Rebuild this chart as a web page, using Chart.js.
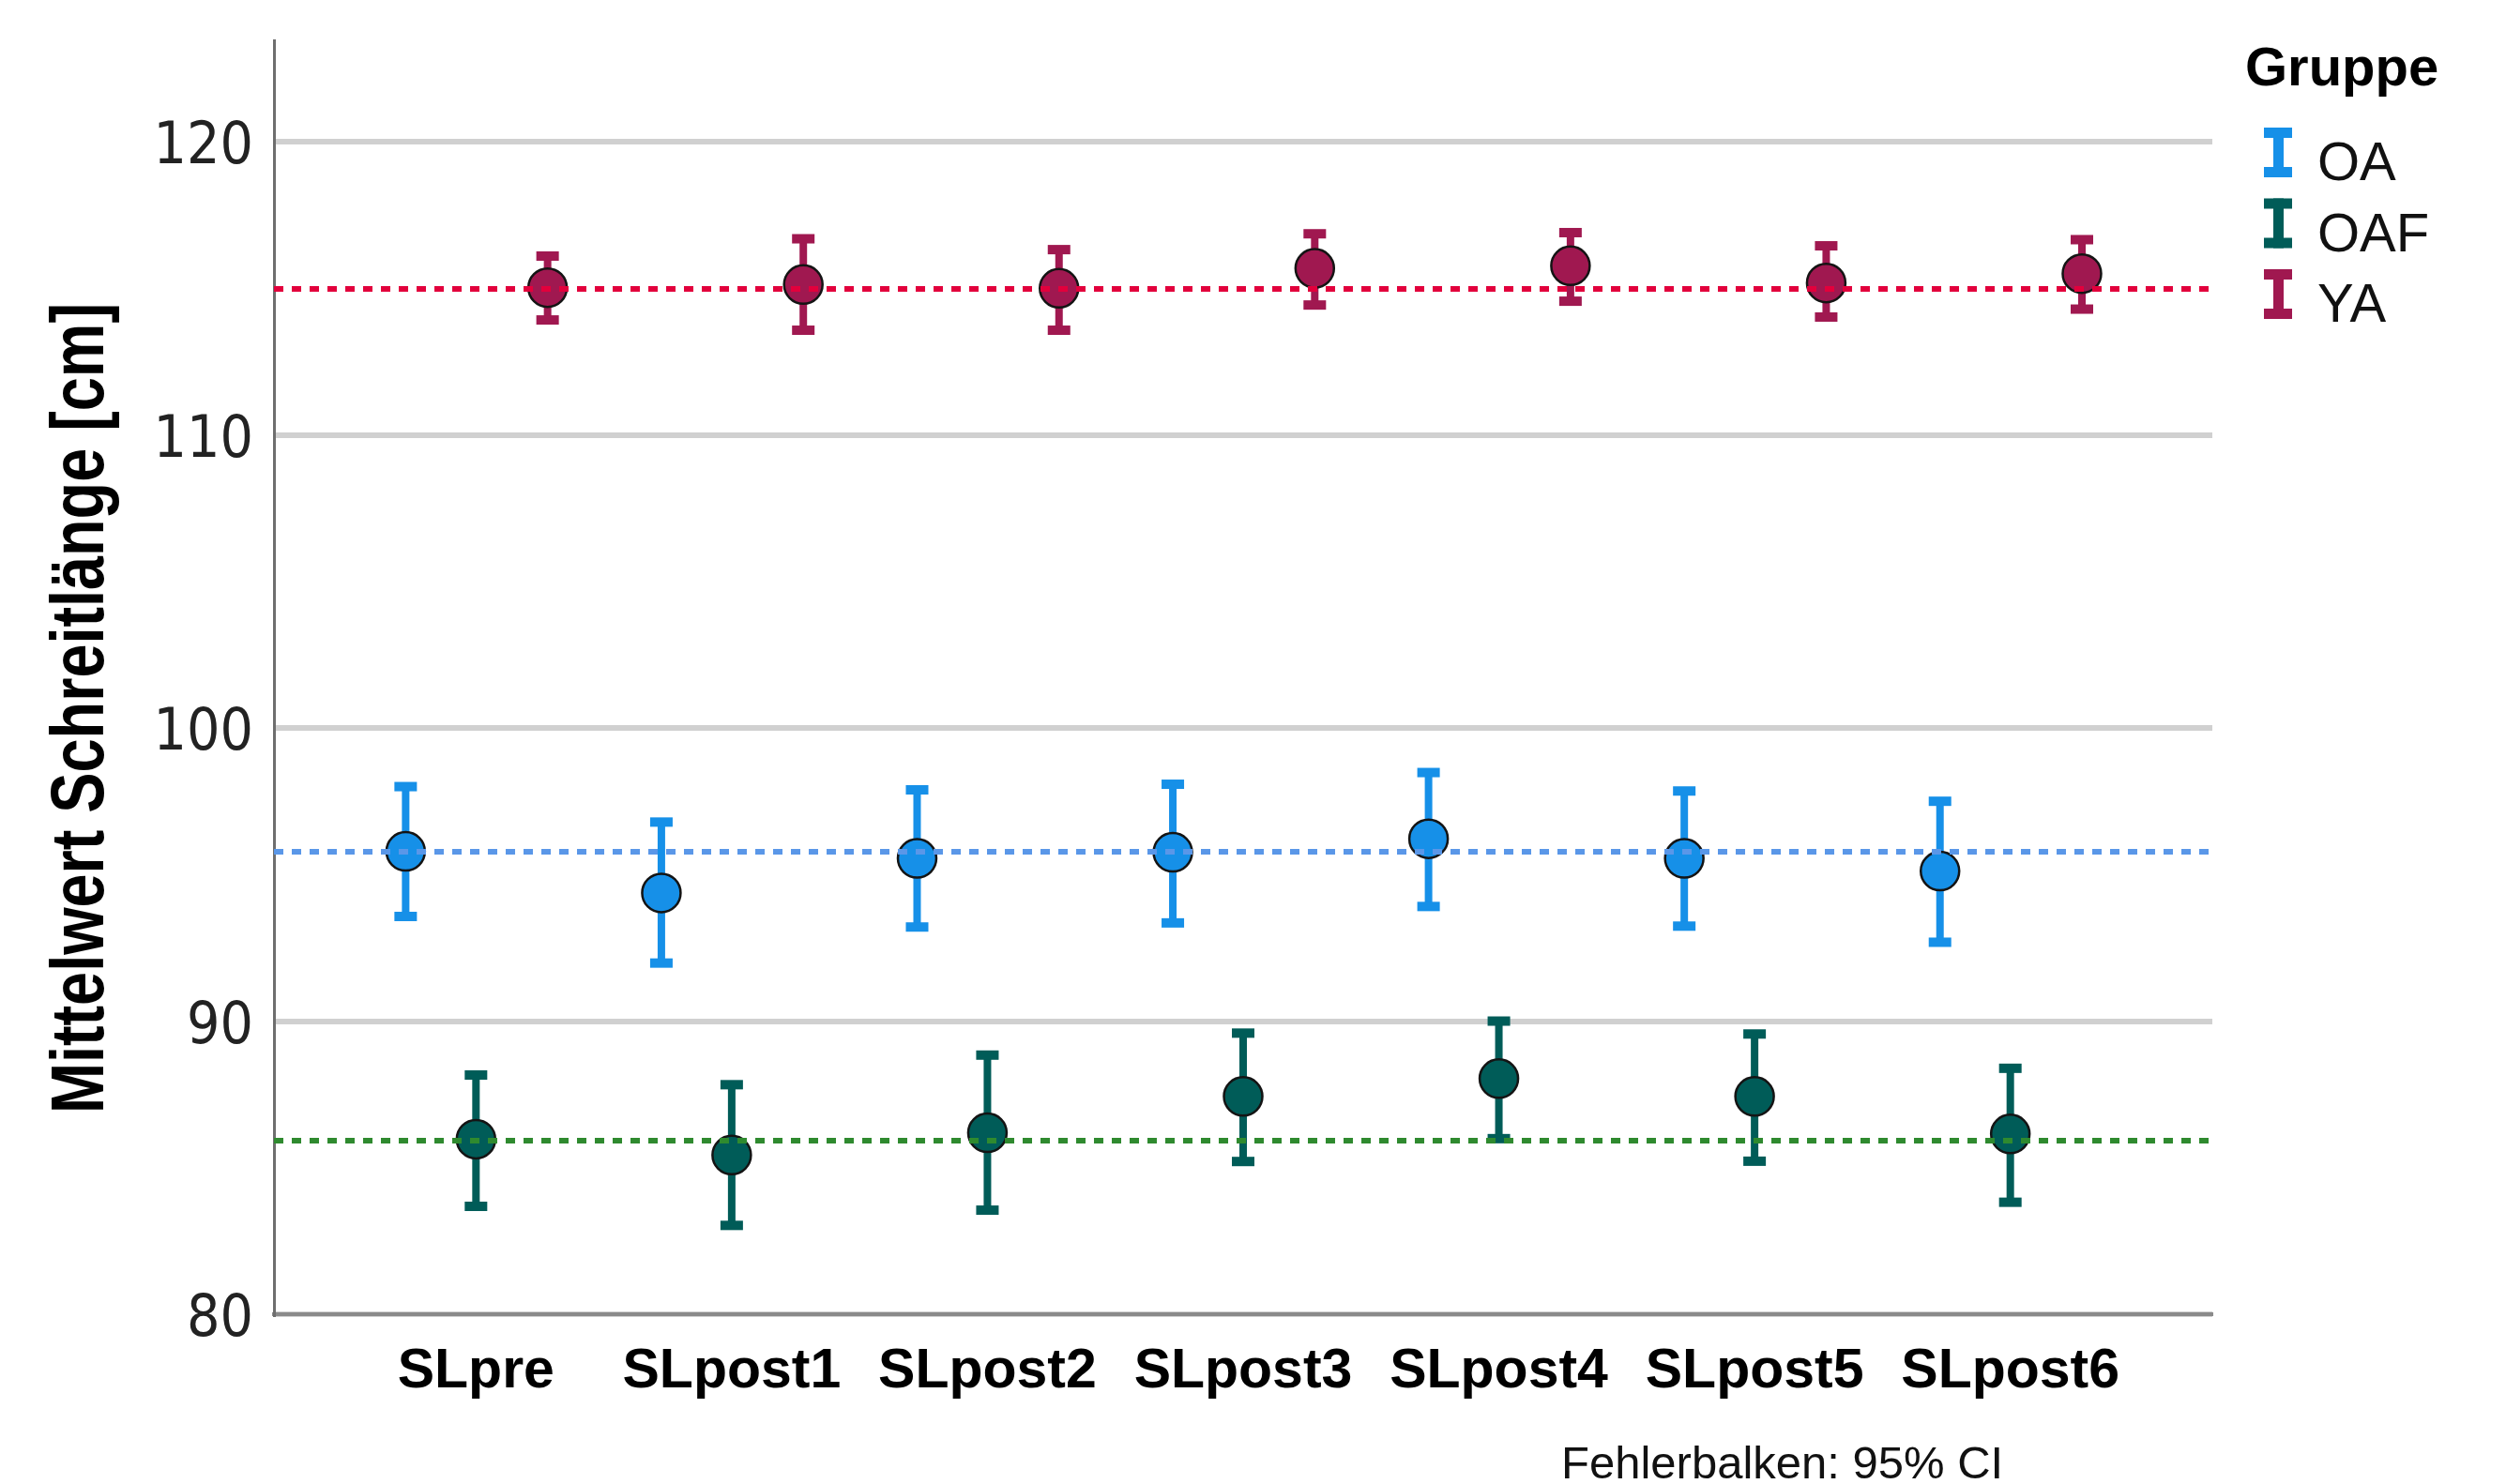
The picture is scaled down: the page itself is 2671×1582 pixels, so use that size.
<!DOCTYPE html>
<html>
<head>
<meta charset="utf-8">
<title>Mittelwert Schreitlänge</title>
<script src="https://cdn.jsdelivr.net/npm/chart.js@4.4.1/dist/chart.umd.min.js"></script>
<style>
  html, body { margin: 0; padding: 0; background: #fff; }
  #wrap { width: 2671px; height: 1582px; position: relative; }
</style>
</head>
<body>
<div id="wrap"><canvas id="mycanvas"></canvas></div>
<script>
// categories and tick values
var categories = ['SLpre', 'SLpost1', 'SLpost2', 'SLpost3', 'SLpost4', 'SLpost5', 'SLpost6'];
var yTicks = [80, 90, 100, 110, 120];

// OA
var oaMean  = [95.79, 94.37, 95.55, 95.76, 96.22, 95.55, 95.12];
var oaLower = [93.57, 91.98, 93.21, 93.35, 93.91, 93.24, 92.69];
var oaUpper = [98.00, 96.79, 97.89, 98.08, 98.48, 97.85, 97.50];

// OAF
var oafMean  = [85.97, 85.43, 86.19, 87.43, 88.04, 87.43, 86.15];
var oafLower = [83.68, 83.03, 83.55, 85.21, 85.99, 85.22, 83.82];
var oafUpper = [88.16, 87.83, 88.84, 89.59, 90.00, 89.56, 88.39];

// YA
var yaMean  = [115.02, 115.13, 115.00, 115.68, 115.77, 115.18, 115.50];
var yaLower = [113.92, 113.57, 113.57, 114.43, 114.56, 114.02, 114.29];
var yaUpper = [116.10, 116.69, 116.32, 116.86, 116.90, 116.45, 116.66];

// horizontal reference lines (group means)
var refOA = 95.78, refOAF = 85.92, refYA = 114.98;

var xMin = -0.79, xMax = 6.79;
var narrow = "'Liberation Sans Narrow', 'Arial Narrow', 'DejaVu Sans Condensed', 'Liberation Sans', sans-serif";
var sans = "'Liberation Sans', Arial, sans-serif";

function pts(vals, off) {
	return vals.map(function(v, i) { return {x: i + off, y: v}; });
}

function refLine(val, color) {
	return {
		label: '', data: [{x: xMin, y: val}, {x: xMax, y: val}],
		showLine: true, borderColor: color, borderWidth: 6, borderDash: [10, 9],
		pointRadius: 0, pointHoverRadius: 0, order: 0, isRef: true
	};
}

function group(label, mean, lower, upper, off, color) {
	return {
		label: label, data: pts(mean, off), lower: lower, upper: upper,
		backgroundColor: color, borderColor: '#141414', borderWidth: 2.5,
		pointRadius: 20.5, pointHoverRadius: 20.5, order: 1
	};
}

// error bars under the points
var errorBars = {
	id: 'errorBars',
	beforeDatasetsDraw: function(chart) {
		var ctx = chart.ctx, xs = chart.scales.x, ys = chart.scales.y;
		chart.data.datasets.forEach(function(ds) {
			if (!ds.lower) return;
			ctx.save();
			ctx.strokeStyle = ds.backgroundColor;
			ctx.fillStyle = ds.backgroundColor;
			ctx.lineWidth = 8;
			ds.data.forEach(function(p, i) {
				var x = xs.getPixelForValue(p.x);
				var top = ys.getPixelForValue(ds.upper[i]);
				var bot = ys.getPixelForValue(ds.lower[i]);
				ctx.beginPath();
				ctx.moveTo(x, top);
				ctx.lineTo(x, bot);
				ctx.stroke();
				ctx.fillRect(x - 12, top - 5, 24, 10);
				ctx.fillRect(x - 12, bot - 5, 24, 10);
			});
			ctx.restore();
		});
	}
};

// y title, legend and footnote
var extras = {
	id: 'extras',
	afterDraw: function(chart) {
		var ctx = chart.ctx;
		ctx.save();
		ctx.fillStyle = '#000';

		// y axis title, condensed to the reference length
		var title = 'Mittelwert Schreitlänge [cm]';
		ctx.save();
		ctx.font = 'bold 79px ' + sans;
		var w = ctx.measureText(title).width;
		ctx.translate(110, 755);
		ctx.rotate(-Math.PI / 2);
		ctx.scale(864 / w, 1);
		ctx.textAlign = 'center';
		ctx.textBaseline = 'alphabetic';
		ctx.fillText(title, 0, 0);
		ctx.restore();

		// legend
		ctx.font = 'bold 58px ' + sans;
		ctx.textAlign = 'left';
		ctx.textBaseline = 'alphabetic';
		ctx.fillText('Gruppe', 2393, 91);
		var base = 192;
		chart.data.datasets.forEach(function(ds) {
			if (ds.isRef) return;
			var top = base - 56;
			ctx.fillStyle = ds.backgroundColor;
			ctx.fillRect(2413, top, 30, 11);
			ctx.fillRect(2423, top, 11, 53);
			ctx.fillRect(2413, top + 42, 30, 11);
			ctx.fillStyle = '#111';
			ctx.font = '58px ' + sans;
			ctx.fillText(ds.label, 2470, base);
			base += 75.5;
		});

		// footnote
		ctx.font = '49px ' + sans;
		ctx.fillStyle = '#111';
		ctx.fillText('Fehlerbalken: 95% CI', 1664, 1576);
		ctx.restore();
	}
};

var ctx = document.getElementById('mycanvas');

var chart = new Chart(ctx, {
	type: 'scatter',
	data: {
		datasets: [
			refLine(refYA, '#e2003c'),
			refLine(refOA, '#5a97e8'),
			refLine(refOAF, '#2f8a2f'),
			group('OA', oaMean, oaLower, oaUpper, -0.275, '#1690e8'),
			group('OAF', oafMean, oafLower, oafUpper, 0, '#005c58'),
			group('YA', yaMean, yaLower, yaUpper, 0.28, '#a01850')
		]
	},
	options: {
		responsive: true,
		maintainAspectRatio: false,
		animation: false,
		layout: { padding: { top: 43, right: 313, bottom: 0, left: 0 } },
		plugins: {
			legend: { display: false },
			tooltip: { enabled: false }
		},
		scales: {
			x: {
				type: 'linear', min: xMin, max: xMax,
				afterBuildTicks: function(s) {
					s.ticks = categories.map(function(c, i) { return {value: i}; });
				},
				afterFit: function(s) {
					s.height = 181;
					s.paddingLeft = 0;
					s.paddingRight = 0;
				},
				grid: { display: false, drawTicks: false },
				border: { display: true, color: '#8a8a8a', width: 4 },
				ticks: {
					padding: 26, color: '#000', autoSkip: false, maxRotation: 0,
					font: { family: sans, size: 59, weight: 'bold' },
					callback: function(v) { return categories[v]; }
				}
			},
			y: {
				min: 80, max: 123.46,
				afterBuildTicks: function(s) {
					s.ticks = yTicks.map(function(v) { return {value: v}; });
				},
				afterFit: function(s) {
					s.width = 292;
					s.paddingTop = 0;
					s.paddingBottom = 0;
				},
				grid: { color: '#d0d0d0', lineWidth: 6, drawTicks: false },
				border: { color: '#6e6e6e', width: 3 },
				ticks: {
					padding: 22, color: '#222', labelOffset: 7,
					font: { family: narrow, size: 62 }
				}
			}
		}
	},
	plugins: [errorBars, extras]
});
</script>
</body>
</html>
